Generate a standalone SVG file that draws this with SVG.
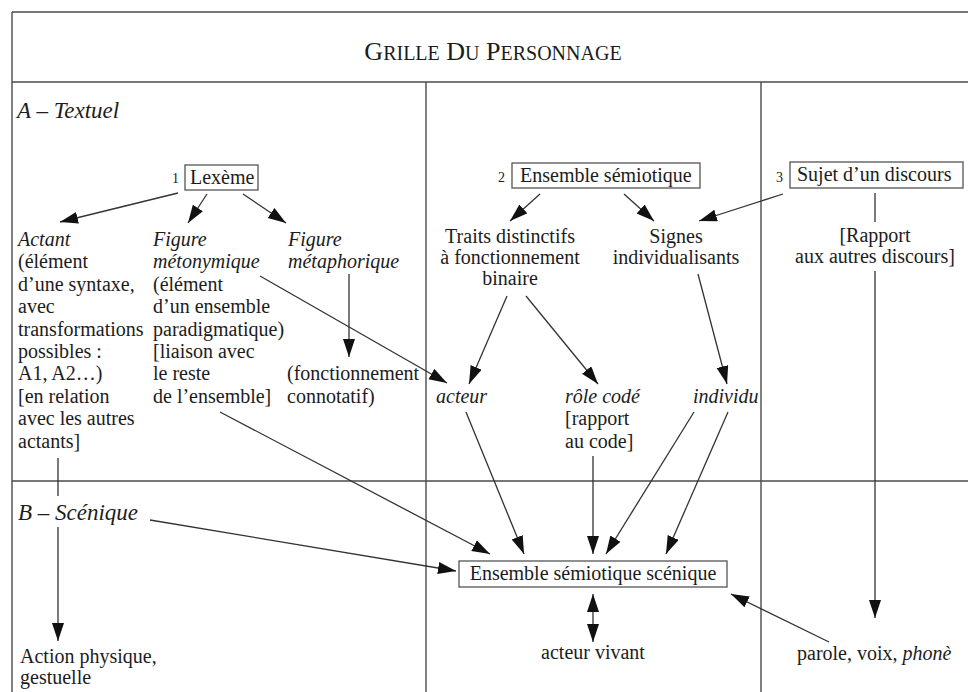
<svg xmlns="http://www.w3.org/2000/svg" width="968" height="692" viewBox="0 0 968 692">
<style>
text{font-family:"Liberation Serif","Times New Roman",serif;fill:#1c1c1c;font-size:20px}
.it{font-style:italic}
.num{font-size:14px}
.hd{font-style:italic;font-size:23px}
.frame{stroke:#4a4a4a;stroke-width:1.4;fill:none}
.box{stroke:#555;stroke-width:1.3;fill:#fff}
.c line,.c path{stroke:#333;stroke-width:1.3;fill:none}
.a{marker-end:url(#ah)}
.d{marker-end:url(#ah);marker-start:url(#as)}
</style>
<defs>
<marker id="ah" markerUnits="userSpaceOnUse" markerWidth="19" markerHeight="13" refX="18" refY="6" orient="auto"><path d="M0,0 L18,6 L0,12 z" fill="#111"/></marker>
<marker id="as" markerUnits="userSpaceOnUse" markerWidth="19" markerHeight="13" refX="18" refY="6" orient="auto-start-reverse"><path d="M0,0 L18,6 L0,12 z" fill="#111"/></marker>
</defs>
<rect width="968" height="692" fill="#fff"/>
<g id="frame" class="frame">
<line x1="12" y1="12" x2="968" y2="12"/>
<line x1="12" y1="12" x2="12" y2="692"/>
<line x1="12" y1="82" x2="968" y2="82"/>
<line x1="12" y1="481" x2="968" y2="481"/>
<line x1="426" y1="82" x2="426" y2="692"/>
<line x1="761" y1="82" x2="761" y2="692"/>
</g>
<g id="title"><text x="493" y="60" text-anchor="middle"><tspan font-size="26">G</tspan>RILLE<tspan font-size="26"> D</tspan>U<tspan font-size="26"> P</tspan>ERSONNAGE</text></g>
<g id="sectionA"><text class="hd" x="17" y="118">A – Textuel</text></g>
<g id="sectionB"><text class="hd" x="18" y="520">B – Scénique</text></g>
<g id="lexeme">
<text class="num" x="172" y="183">1</text>
<rect class="box" x="185" y="165" width="73" height="25"/>
<text x="190" y="184">Lexème</text>
</g>
<g id="ensemble">
<text class="num" x="498" y="182">2</text>
<rect class="box" x="512" y="163" width="188" height="25"/>
<text x="520" y="182">Ensemble sémiotique</text>
</g>
<g id="sujet">
<text class="num" x="776" y="182">3</text>
<rect class="box" x="790" y="162" width="173" height="26"/>
<text x="797" y="181">Sujet d’un discours</text>
</g>
<g id="actant">
<text x="18" y="246" class="it">Actant</text>
<text x="18" y="268.4">(élément</text>
<text x="18" y="290.8">d’une syntaxe,</text>
<text x="18" y="313.2">avec</text>
<text x="18" y="335.6">transformations</text>
<text x="18" y="358">possibles :</text>
<text x="18" y="380.4">A1, A2…)</text>
<text x="18" y="402.8">[en relation</text>
<text x="18" y="425.2">avec les autres</text>
<text x="18" y="447.6">actants]</text>
</g>
<g id="metonymique">
<text x="153" y="246" class="it">Figure</text>
<text x="153" y="268.4" class="it">métonymique</text>
<text x="153" y="290.8">(élément</text>
<text x="153" y="313.2">d’un ensemble</text>
<text x="153" y="335.6">paradigmatique)</text>
<text x="153" y="358">[liaison avec</text>
<text x="153" y="380.4">le reste</text>
<text x="153" y="402.8">de l’ensemble]</text>
</g>
<g id="metaphorique">
<text x="288" y="246" class="it">Figure</text>
<text x="288" y="268.4" class="it">métaphorique</text>
</g>
<g id="fonctionnement">
<text x="287" y="380.4">(fonctionnement</text>
<text x="287" y="402.8">connotatif)</text>
</g>
<g id="traits" text-anchor="middle">
<text x="510" y="243">Traits distinctifs</text>
<text x="510" y="264">à fonctionnement</text>
<text x="510" y="285">binaire</text>
</g>
<g id="signes" text-anchor="middle">
<text x="676" y="243">Signes</text>
<text x="676" y="264">individualisants</text>
</g>
<g id="rapport" text-anchor="middle">
<text x="875" y="242">[Rapport</text>
<text x="875" y="263">aux autres discours]</text>
</g>
<g id="acteur"><text x="436" y="402.8" class="it">acteur</text></g>
<g id="role">
<text x="565" y="402.8" class="it">rôle codé</text>
<text x="565" y="425.2">[rapport</text>
<text x="565" y="447.6">au code]</text>
</g>
<g id="individu"><text x="693" y="402.8" class="it">individu</text></g>
<g id="scenique">
<rect class="box" x="459" y="561" width="268" height="26"/>
<text x="593" y="580" text-anchor="middle">Ensemble sémiotique scénique</text>
</g>
<g id="vivant"><text x="593" y="659" text-anchor="middle">acteur vivant</text></g>
<g id="parole"><text x="797" y="660">parole, voix, <tspan class="it">phonè</tspan></text></g>
<g id="action">
<text x="20" y="663">Action physique,</text>
<text x="20" y="684">gestuelle</text>
</g>
<g id="connectors" class="c">
<line class="a" x1="178" y1="193" x2="60" y2="222"/>
<line class="a" x1="207" y1="194" x2="188" y2="223"/>
<line class="a" x1="243" y1="194" x2="286" y2="223"/>
<line class="a" x1="349" y1="274" x2="349" y2="357"/>
<line class="a" x1="260" y1="276" x2="447" y2="383"/>
<line class="a" x1="540" y1="194" x2="510" y2="221"/>
<line class="a" x1="624" y1="194" x2="654" y2="221"/>
<line class="a" x1="783" y1="194" x2="699" y2="221"/>
<line x1="875" y1="193" x2="875" y2="222"/>
<line class="a" x1="875" y1="271" x2="875" y2="618"/>
<line class="a" x1="507" y1="296" x2="469" y2="384"/>
<line class="a" x1="526" y1="296" x2="598" y2="384"/>
<line class="a" x1="698" y1="274" x2="727" y2="384"/>
<line class="a" x1="220" y1="412" x2="490" y2="554"/>
<line class="a" x1="466" y1="412" x2="524" y2="554"/>
<line class="a" x1="593" y1="456" x2="593" y2="554"/>
<line class="a" x1="694" y1="412" x2="606" y2="554"/>
<line class="a" x1="728" y1="412" x2="666" y2="554"/>
<line class="a" x1="150" y1="520" x2="456" y2="571"/>
<line class="d" x1="593" y1="594" x2="593" y2="642"/>
<line class="a" x1="829" y1="642" x2="731" y2="594"/>
<line x1="58" y1="458" x2="58" y2="496"/>
<line class="a" x1="58" y1="527" x2="58" y2="641"/>
</g>
</svg>
